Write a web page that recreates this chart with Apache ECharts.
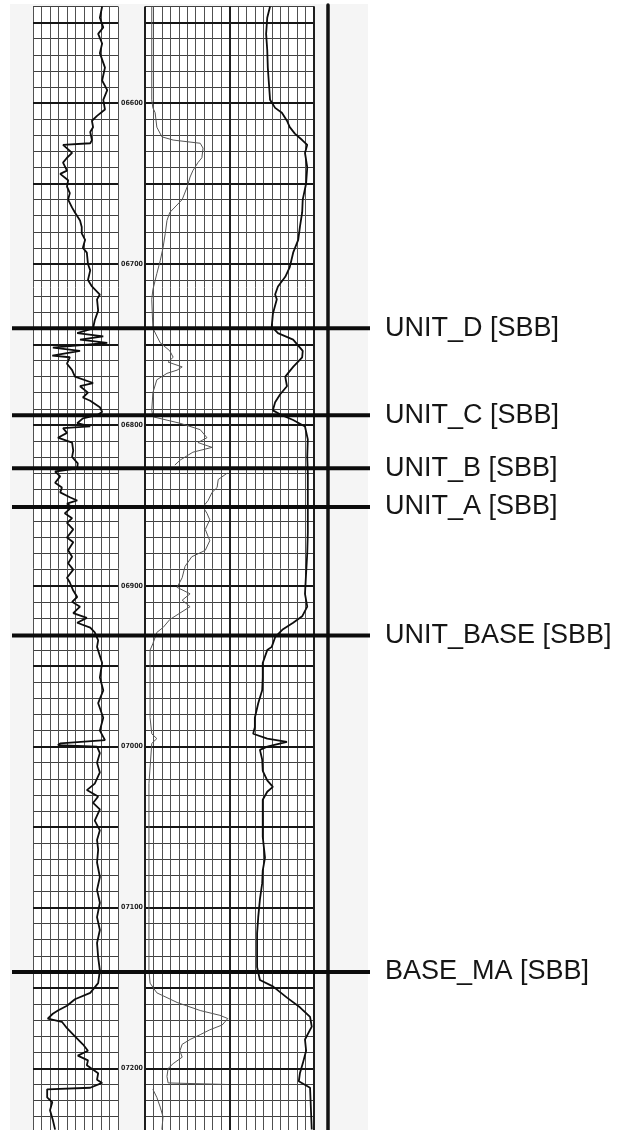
<!DOCTYPE html>
<html><head><meta charset="utf-8">
<script src="https://cdn.jsdelivr.net/npm/echarts@6/dist/echarts.min.js"></script>
<style>html,body{margin:0;padding:0;background:#fff}#c{width:617px;height:1130px}</style>
</head><body><div id="c"></div>
<script>
// ---- depth scale (ft) ----
const depthMin = 6540, depthMax = 7240;
const depthLabelValues = [6600, 6700, 6800, 6900, 7000, 7100, 7200];
const depthLabels = ['06600', '06700', '06800', '06900', '07000', '07100', '07200'];

// ---- formation tops ----
const topNames = ['UNIT_D [SBB]', 'UNIT_C [SBB]', 'UNIT_B [SBB]', 'UNIT_A [SBB]', 'UNIT_BASE [SBB]', 'BASE_MA [SBB]'];
const topDepths = [6740, 6794, 6827, 6851, 6931, 7140];

// ---- track 1 curve (scale 0-150), [value, depth] ----
const grCurve = [[122,6540],[118,6547],[124,6553],[115,6557],[122,6563],[118,6569],[127,6578],[122,6586],[131,6592],[124,6598],[127,6604],[113,6608],[104,6611],[106,6615],[101,6618],[104,6623],[101,6625],[53,6626],[56,6627],[69,6631],[60,6634],[53,6637],[60,6642],[48,6644],[62,6648],[60,6652],[65,6656],[62,6660],[69,6665],[74,6668],[83,6673],[86,6677],[86,6681],[92,6685],[88,6690],[95,6693],[97,6700],[101,6704],[97,6710],[104,6714],[118,6719],[113,6722],[115,6729],[109,6735],[106,6740],[78,6743],[124,6745],[83,6747],[131,6749],[35,6752],[83,6754],[34,6757],[65,6758],[60,6762],[69,6766],[74,6770],[106,6774],[83,6776],[97,6780],[88,6783],[101,6785],[118,6789],[122,6792],[113,6794],[88,6796],[78,6799],[101,6801],[53,6802],[60,6805],[44,6808],[69,6811],[71,6816],[69,6820],[79,6824],[78,6827],[39,6829],[48,6832],[39,6836],[51,6839],[48,6842],[65,6845],[78,6847],[60,6849],[69,6851],[56,6855],[69,6858],[60,6861],[71,6865],[60,6870],[71,6873],[62,6878],[69,6882],[62,6886],[71,6890],[60,6895],[65,6898],[71,6903],[78,6907],[69,6910],[83,6913],[71,6917],[95,6920],[78,6923],[101,6926],[109,6929],[115,6934],[113,6938],[122,6948],[118,6957],[124,6965],[115,6973],[124,6982],[118,6990],[127,6996],[48,6998],[44,6999],[113,7000],[118,7004],[113,7010],[118,7016],[109,7023],[95,7027],[115,7031],[106,7035],[118,7039],[109,7046],[118,7052],[113,7058],[115,7064],[113,7072],[118,7081],[113,7089],[118,7097],[113,7106],[118,7114],[113,7122],[115,7131],[118,7139],[115,7147],[101,7153],[74,7157],[60,7161],[44,7164],[35,7166],[26,7169],[51,7171],[60,7175],[74,7180],[88,7185],[97,7189],[79,7192],[97,7195],[95,7198],[115,7203],[113,7207],[122,7209],[101,7212],[25,7213],[25,7218],[34,7221],[30,7226],[35,7232],[39,7238]];

// ---- tracks 2-3 thin curve (scale 0-300), three segments ----
const shallowA = [[12,6540],[12,6598],[14,6603],[18,6606],[21,6615],[30,6621],[50,6623],[98,6625],[103,6628],[101,6634],[94,6637],[85,6642],[80,6646],[75,6652],[66,6660],[44,6668],[39,6673],[36,6681],[32,6690],[27,6698],[21,6706],[14,6716],[12,6722],[14,6740],[27,6749],[44,6754],[50,6758],[41,6761],[66,6764],[57,6766],[39,6768],[21,6772],[14,6780],[12,6791],[14,6795],[62,6799],[98,6803],[110,6808],[94,6811],[119,6814],[85,6817],[62,6822],[53,6825]];
const shallowB = [[146,6830],[130,6834],[128,6839],[119,6842],[112,6847],[103,6851],[110,6855],[115,6859],[107,6865],[115,6872],[107,6878],[83,6882],[71,6888],[66,6895],[57,6901],[80,6905],[66,6909],[80,6913],[62,6917],[44,6921],[32,6926],[21,6929],[14,6936],[9,6940],[9,6960],[9,6982],[12,6992],[21,6995],[12,6998],[7,7023],[7,7064],[7,7106],[7,7139],[9,7147],[21,7153],[57,7159],[98,7164],[133,7167],[147,7169],[137,7173],[115,7176],[98,7179],[80,7182],[66,7185],[62,7189],[66,7193],[50,7197],[41,7200],[39,7205],[41,7209],[147,7210]];
const shallowC = [[14,7213],[21,7218],[27,7224],[32,7230],[30,7238]];

// ---- tracks 2-3 thick curve (scale 0-300) ----
const deepCurve = [[222,6540],[217,6547],[215,6557],[217,6567],[218,6578],[220,6588],[222,6598],[231,6603],[243,6606],[252,6611],[257,6615],[266,6619],[279,6623],[288,6626],[284,6631],[288,6640],[286,6650],[280,6660],[279,6668],[275,6677],[272,6685],[263,6693],[257,6702],[249,6708],[236,6714],[231,6719],[234,6722],[227,6731],[225,6739],[236,6743],[263,6747],[280,6754],[279,6758],[263,6764],[249,6770],[252,6776],[240,6781],[231,6786],[227,6791],[243,6794],[263,6797],[284,6801],[289,6809],[288,6820],[289,6830],[289,6840],[289,6851],[289,6867],[288,6880],[286,6892],[284,6905],[288,6913],[279,6919],[263,6923],[245,6927],[231,6932],[225,6938],[217,6940],[209,6948],[209,6957],[208,6965],[201,6973],[195,6982],[195,6988],[192,6992],[217,6995],[252,6997],[254,6998],[217,7000],[204,7002],[208,7008],[209,7015],[217,7021],[227,7025],[217,7028],[209,7033],[209,7044],[209,7056],[213,7069],[209,7077],[208,7085],[204,7095],[201,7106],[199,7116],[199,7126],[199,7137],[204,7145],[227,7149],[252,7156],[275,7162],[293,7168],[296,7174],[284,7182],[286,7189],[280,7197],[275,7203],[273,7208],[293,7212],[296,7213],[296,7238]];

// ---------------------------------------------------------------
const TOP = 6.5, H = 1126.3;
const T = 'rgba(0,0,0,0)';
const gridBase = { containLabel: false, outerBoundsMode: 'none' };
function hiddenAx(grid, extra) { return Object.assign({ type: 'value', gridIndex: grid, show: false, min: 0, max: 1 }, extra || {}); }
function gridX(grid, max, interval, color, width, z) {
  return { type: 'value', gridIndex: grid, min: 0, max: max, interval: interval, z: z || 0,
    axisLine: { show: false }, axisTick: { show: false }, axisLabel: { show: false },
    splitLine: { show: true, lineStyle: { color: color, width: width } } };
}
function gridY(grid, color, width, z) {
  return { type: 'value', gridIndex: grid, inverse: true, min: depthMin, max: depthMax, interval: 10, z: z || 0,
    axisLine: { show: false }, axisTick: { show: false }, axisLabel: { show: false },
    splitLine: { show: true, lineStyle: { color: color, width: width } } };
}
const heavyColors = [T, '#151515', T, T, T];

const series = [
  { type: 'line', name: 'track1', xAxisIndex: 1, yAxisIndex: 1, data: grCurve, symbol: 'none',
    lineStyle: { color: '#0d0d0d', width: 1.8 } },
  { type: 'line', name: 'shallowA', xAxisIndex: 3, yAxisIndex: 3, data: shallowA, symbol: 'none',
    lineStyle: { color: '#555', width: 1 } },
  { type: 'line', name: 'shallowB', xAxisIndex: 3, yAxisIndex: 3, data: shallowB, symbol: 'none',
    lineStyle: { color: '#555', width: 1 } },
  { type: 'line', name: 'shallowC', xAxisIndex: 3, yAxisIndex: 3, data: shallowC, symbol: 'none',
    lineStyle: { color: '#555', width: 1 } },
  { type: 'line', name: 'deep', xAxisIndex: 3, yAxisIndex: 3, data: deepCurve, symbol: 'none',
    lineStyle: { color: '#0d0d0d', width: 1.8 } }
];
topNames.forEach(function (nm, i) {
  series.push({
    type: 'line', name: nm, xAxisIndex: 6, yAxisIndex: 7, symbol: 'none', silent: true, z: 10,
    data: [[0, topDepths[i]], [1, topDepths[i]]],
    lineStyle: { color: '#0b0b0b', width: 4 },
    endLabel: { show: true, formatter: nm, distance: 15, fontSize: 27, color: '#151515',
      fontFamily: "'Liberation Sans', Arial, sans-serif" }
  });
});

const option = {
  animation: false,
  backgroundColor: '#ffffff',
  grid: [
    Object.assign({ left: 10, top: 4, width: 358, bottom: 0, show: true, backgroundColor: '#f5f5f5', borderWidth: 0 }, gridBase),
    Object.assign({ left: 33, top: TOP, width: 85, height: H, show: true, backgroundColor: '#ffffff', borderWidth: 0 }, gridBase),
    Object.assign({ left: 118, top: TOP, width: 27, height: H }, gridBase),
    Object.assign({ left: 145, top: TOP, width: 169, height: H, show: true, backgroundColor: '#ffffff', borderWidth: 0 }, gridBase),
    Object.assign({ left: 314, top: 5, width: 14, bottom: 0 }, gridBase),
    Object.assign({ left: 12, top: TOP, width: 358, height: H }, gridBase)
  ],
  xAxis: [
    hiddenAx(0),
    gridX(1, 150, 15, '#505050', 1),
    hiddenAx(2),
    gridX(3, 300, 15, '#505050', 1),
    gridX(3, 300, 150, '#1e1e1e', 2, 1),
    hiddenAx(4),
    hiddenAx(5)
  ],
  yAxis: [
    hiddenAx(0),
    gridY(1, '#404040', 1),
    gridY(1, heavyColors, 2.2, 1),
    gridY(3, '#404040', 1),
    gridY(3, heavyColors, 2.2, 1),
    { type: 'value', gridIndex: 2, inverse: true, min: depthMin, max: depthMax, interval: 10, position: 'left',
      axisLine: { show: false }, axisTick: { show: false }, splitLine: { show: false },
      axisLabel: { show: true, inside: true, margin: 3, fontSize: 7, color: '#222', fontWeight: 'bold',
        fontFamily: "'DejaVu Sans Condensed', 'Liberation Sans', sans-serif",
        formatter: function (v) { const k = depthLabelValues.indexOf(Math.round(v)); return k >= 0 ? depthLabels[k] : ''; } } },
    { type: 'value', gridIndex: 4, min: 0, max: 1, position: 'right',
      axisLine: { show: true, onZero: false, lineStyle: { color: '#111', width: 3.5 } },
      axisTick: { show: false }, axisLabel: { show: false }, splitLine: { show: false } },
    { type: 'value', gridIndex: 5, inverse: true, min: depthMin, max: depthMax, show: false }
  ],
  series: series
};
const chart = echarts.init(document.getElementById('c'), null, { renderer: 'canvas' });
chart.setOption(option);
</script>
</body></html>
